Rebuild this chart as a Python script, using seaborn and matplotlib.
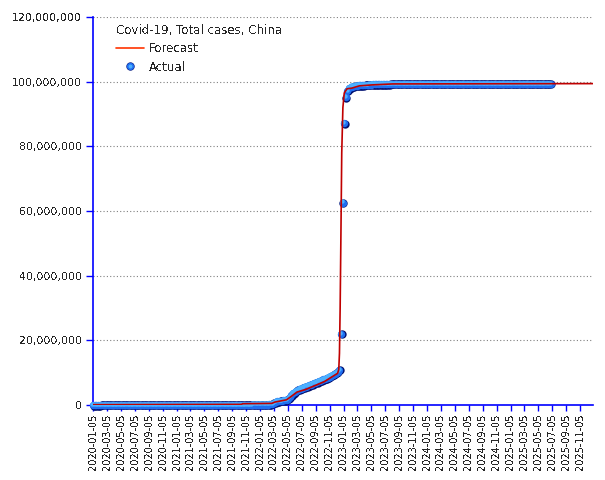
import matplotlib
matplotlib.use("Agg")
import matplotlib.pyplot as plt
from matplotlib.lines import Line2D
from matplotlib.legend_handler import HandlerTuple
from matplotlib.ticker import FuncFormatter
from matplotlib.transforms import offset_copy
import seaborn as sns
import numpy as np
import pandas as pd

sns.set_style("white")
plt.rcParams['font.family'] = ['DejaVu Sans']
plt.rcParams['text.antialiased'] = False

# Weekly actual totals (millions), Sundays from 2020-01-05
actual_2020 = [0.00, 0.00, 0.00, 0.00, 0.02, 0.04, 0.07, 0.08,
               0.08, 0.08, 0.08, 0.08, 0.08, 0.08, 0.08, 0.08, 0.08,
               0.08, 0.08, 0.08, 0.08, 0.08, 0.08, 0.08, 0.08, 0.08,
               0.08, 0.08, 0.09, 0.09, 0.09, 0.09, 0.09, 0.09, 0.09,
               0.09, 0.09, 0.09, 0.09, 0.09, 0.09, 0.09, 0.09, 0.09,
               0.09, 0.09, 0.09, 0.09, 0.10, 0.10, 0.10, 0.10]
actual_2021 = [0.10, 0.10, 0.10, 0.10, 0.10, 0.10, 0.10, 0.10, 0.10,
               0.10, 0.10, 0.10, 0.10, 0.10, 0.10, 0.10, 0.10, 0.10,
               0.10, 0.11, 0.11, 0.11, 0.11, 0.11, 0.11, 0.11, 0.11,
               0.11, 0.11, 0.12, 0.12, 0.12, 0.12, 0.12, 0.12, 0.12,
               0.12, 0.12, 0.12, 0.12, 0.12, 0.12, 0.12, 0.12, 0.12,
               0.12, 0.12, 0.12, 0.13, 0.13, 0.13, 0.13]
actual_2022 = [0.13, 0.13, 0.14, 0.14, 0.14, 0.15, 0.17, 0.22, 0.35,
               0.65, 0.95, 1.10, 1.20, 1.28, 1.36, 1.44, 1.52, 1.65,
               1.95, 2.45, 3.05, 3.60, 4.05, 4.40, 4.70, 4.90, 5.10,
               5.30, 5.50, 5.70, 5.90, 6.10, 6.30, 6.50, 6.70, 6.90,
               7.10, 7.30, 7.50, 7.70, 7.90, 8.10, 8.30, 8.50, 8.80,
               9.10, 9.40, 9.70, 10.00, 10.30, 10.90, 22.00]
actual_2023 = [62.6, 87.1, 95.2, 97.2, 97.9, 98.3, 98.5, 98.6, 98.7,
               98.8, 98.85, 98.9, 98.95, 99.0, 99.02, 99.05, 99.08, 99.1,
               99.12, 99.15, 99.18, 99.2, 99.22, 99.24, 99.26, 99.27,
               99.28, 99.29, 99.3, 99.3, 99.31, 99.31, 99.31, 99.31,
               99.31, 99.32, 99.32, 99.32, 99.32, 99.32, 99.32, 99.32,
               99.32, 99.33, 99.33, 99.33, 99.33, 99.33, 99.33, 99.33,
               99.33, 99.33, 99.33]
actual_2024 = [99.33, 99.33, 99.33, 99.34, 99.34, 99.34, 99.34, 99.34,
               99.34, 99.34, 99.34, 99.34, 99.35, 99.35, 99.35, 99.35,
               99.35, 99.35, 99.35, 99.35, 99.35, 99.35, 99.35, 99.35,
               99.35, 99.36, 99.36, 99.36, 99.36, 99.36, 99.36, 99.36,
               99.36, 99.36, 99.36, 99.36, 99.36, 99.36, 99.36, 99.36,
               99.36, 99.36, 99.36, 99.36, 99.36, 99.36, 99.36, 99.36,
               99.36, 99.36, 99.36, 99.36]
actual_2025 = [99.36, 99.36, 99.36, 99.36, 99.36, 99.37, 99.37, 99.37,
               99.37, 99.37, 99.37, 99.37, 99.37, 99.37, 99.37, 99.37,
               99.37, 99.37, 99.37, 99.37, 99.37, 99.37, 99.37, 99.37,
               99.37, 99.37]
actual_start = "2020-01-05"

# Forecast curve (millions)
forecast_dates = ["2020-01-05", "2021-10-15", "2021-10-20", "2022-02-25",
                  "2022-03-10", "2022-04-30", "2022-05-20", "2022-06-15",
                  "2022-07-23", "2022-10-12", "2022-12-10", "2022-12-15",
                  "2022-12-18", "2022-12-21", "2022-12-24", "2022-12-28",
                  "2023-01-02", "2023-01-08", "2023-01-20", "2023-02-10",
                  "2023-03-15", "2023-05-10", "2023-08-08", "2025-12-31"]
forecast_values = [0.1, 0.2, 0.4, 0.5,
                   0.9, 1.6, 2.6, 4.0,
                   4.8, 7.2, 9.8, 11.0,
                   16.0, 30.0, 50.0, 78.0,
                   92.0, 96.5, 97.8, 98.0,
                   98.7, 99.0, 99.3, 99.4]

legend_title = "Covid-19, Total cases, China"
tick_dates = [pd.Timestamp(y, m, 5) for y in range(2020, 2026) for m in range(1, 13, 2)]

actual = actual_2020 + actual_2021 + actual_2022 + actual_2023 + actual_2024 + actual_2025
actual_df = pd.DataFrame({
    "date": pd.date_range(actual_start, periods=len(actual), freq="7D"),
    "cases": np.array(actual) * 1e6,
})
forecast_df = pd.DataFrame({
    "date": pd.to_datetime(forecast_dates),
    "cases": np.array(forecast_values) * 1e6,
})

line_red = "#c00000"
dark_blue = "#001070"
mid_blue = "#1f6ef0"
light_blue = "#4cb0ff"

fig = plt.figure(figsize=(6.05, 4.8), dpi=100)
ax = fig.add_axes([93 / 605, 1 - 405 / 480, 500 / 605, 388 / 480])

dark_tr = offset_copy(ax.transData, fig=fig, x=0.5, y=-0.6, units='dots')
hi_tr = offset_copy(ax.transData, fig=fig, x=-0.8, y=1.1, units='dots')

# sphere-ish markers: dark shadow, blue body, light highlight
sns.scatterplot(data=actual_df, x="date", y="cases", ax=ax, s=36, color=dark_blue,
                linewidth=0, transform=dark_tr, clip_on=False, zorder=3)
sns.scatterplot(data=actual_df, x="date", y="cases", ax=ax, s=28, color=mid_blue,
                linewidth=0, clip_on=False, zorder=3)
sns.scatterplot(data=actual_df, x="date", y="cases", ax=ax, s=10, color=light_blue,
                linewidth=0, transform=hi_tr, clip_on=False, zorder=3)
sns.lineplot(data=forecast_df, x="date", y="cases", ax=ax, color=line_red, lw=1.2, zorder=5)

ax.set_xlim(pd.Timestamp("2020-01-04"), pd.Timestamp("2026-01-01"))
ax.set_ylim(0, 120e6)
ax.set_yticks(np.arange(0, 120e6 + 1, 20e6))
ax.yaxis.set_major_formatter(FuncFormatter(lambda v, p: f"{v:,.0f}"))
ax.set_xticks(tick_dates)
ax.set_xticklabels([d.strftime("%Y-%m-%d") for d in tick_dates], rotation=90, fontsize=7)
ax.tick_params(axis='y', labelsize=7.8, length=5, width=1, color='#0000ff', pad=3, left=True)
ax.tick_params(axis='x', length=4.5, width=1, color='#0000ff', pad=1.5, bottom=True)
ax.set_xlabel("")
ax.set_ylabel("")

ax.grid(False)
ax.yaxis.grid(True, color="#808080", linestyle=(0, (1, 2)), linewidth=0.8)
ax.set_axisbelow(True)
for side in ["top", "right"]:
    ax.spines[side].set_visible(False)
for side in ["left", "bottom"]:
    ax.spines[side].set_color("#0000ff")
    ax.spines[side].set_linewidth(1.2)

forecast_h = Line2D([], [], color="#ff3300", lw=1.2)
actual_h = (Line2D([], [], ls='none', marker='o', ms=6.0, mfc=dark_blue, mec='none'),
            Line2D([], [], ls='none', marker='o', ms=5.3, mfc=mid_blue, mec='none'),
            Line2D([], [], ls='none', marker='o', ms=2.8, mfc=light_blue, mec='none'))
leg = ax.legend([forecast_h, actual_h], ["Forecast", "Actual"],
                handler_map={tuple: HandlerTuple(ndivide=1, pad=0)},
                title=legend_title, title_fontsize=8.5, fontsize=8.5,
                frameon=False, loc="upper left", bbox_to_anchor=(0.046, 0.982),
                borderpad=0, borderaxespad=0, handlelength=2.4, handletextpad=0.35,
                labelspacing=0.45, alignment="left")

fig.savefig("out.png", dpi=100)
